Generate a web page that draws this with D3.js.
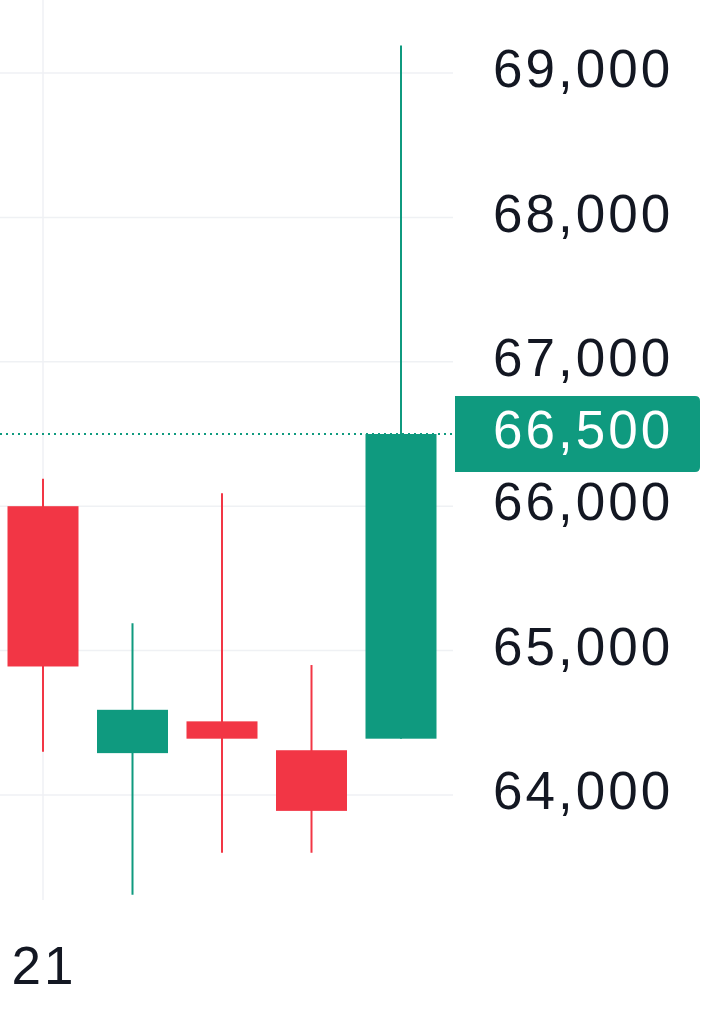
<!DOCTYPE html>
<html>
<head>
<meta charset="utf-8">
<script src="https://cdn.jsdelivr.net/npm/d3@7"></script>
<style>
  body { margin: 0; background: #fff; }
  svg { display: block; }
</style>
</head>
<body>
<div id="chart"></div>
<script>
// candles, oldest first
var opens  = [66000, 64290, 64510, 64310, 64390];
var closes = [64890, 64590, 64390, 63890, 66500];
var highs  = [66190, 65190, 66090, 64900, 69190];
var lows   = [64300, 63310, 63600, 63600, 64390];
var yTicks = [64000, 65000, 66000, 67000, 68000, 69000];
var xTickLabels = ["21"];
var lastPrice = 66500;

var W = 721, H = 1024;
var plotRight = 453;
var up = "#0f9a7f", down = "#f23645";
var font = '"Liberation Sans", Arial, sans-serif';
var fontSize = 53;

var y = d3.scaleLinear().domain([64000, 69000]).range([795, 73]);
var x = d3.scaleLinear().domain([0, 4]).range([43, 401]);
var bodyW = 71;

var svg = d3.select("#chart").append("svg")
    .attr("width", W)
    .attr("height", H);

// grid
svg.append("g").selectAll("line")
    .data(yTicks).enter().append("line")
    .attr("x1", 0).attr("x2", plotRight)
    .attr("y1", d => y(d)).attr("y2", d => y(d))
    .attr("stroke", "#eff1f4").attr("stroke-width", 1.5);

svg.append("line")
    .attr("x1", x(0)).attr("x2", x(0))
    .attr("y1", 0).attr("y2", 900)
    .attr("stroke", "#eff1f4").attr("stroke-width", 1.5);

// last price dotted line
svg.append("line")
    .attr("x1", 0).attr("x2", plotRight)
    .attr("y1", y(lastPrice)).attr("y2", y(lastPrice))
    .attr("stroke", up).attr("stroke-width", 2)
    .attr("stroke-dasharray", "2,4");

var candles = d3.range(opens.length).map(i => ({
    i: i, o: opens[i], c: closes[i], h: highs[i], l: lows[i]
}));

var g = svg.append("g").selectAll("g")
    .data(candles).enter().append("g");

g.append("line")
    .attr("x1", d => x(d.i)).attr("x2", d => x(d.i))
    .attr("y1", d => y(d.h)).attr("y2", d => y(d.l))
    .attr("stroke", d => d.c >= d.o ? up : down)
    .attr("stroke-width", 2);

g.append("rect")
    .attr("x", d => x(d.i) - bodyW / 2)
    .attr("width", bodyW)
    .attr("y", d => y(Math.max(d.o, d.c)))
    .attr("height", d => Math.max(1, y(Math.min(d.o, d.c)) - y(Math.max(d.o, d.c))))
    .attr("fill", d => d.c >= d.o ? up : down);

// right axis
var yAxis = svg.append("g")
    .attr("transform", `translate(493, 0)`)
    .call(d3.axisRight(y).tickValues(yTicks).tickSize(0).tickPadding(0)
        .tickFormat(d3.format(",")));
yAxis.select(".domain").remove();
yAxis.selectAll("text")
    .attr("font-family", font)
    .attr("font-size", fontSize)
    .attr("letter-spacing", 3)
    .attr("fill", "#131722")
    .attr("dy", "0.26em");

// last price label
var ly = y(lastPrice);
svg.append("path")
    .attr("d", `M455,${ly - 38} H695 Q700,${ly - 38} 700,${ly - 33} V${ly + 33} Q700,${ly + 38} 695,${ly + 38} H455 Z`)
    .attr("fill", up);
svg.append("text")
    .attr("x", 493).attr("y", ly)
    .attr("dy", "0.26em")
    .attr("font-family", font)
    .attr("font-size", fontSize)
    .attr("letter-spacing", 3)
    .attr("fill", "#fff")
    .text(d3.format(",")(lastPrice));

// time axis label
svg.append("text")
    .attr("x", x(0) + 1).attr("y", 965)
    .attr("dy", "0.36em")
    .attr("text-anchor", "middle")
    .attr("font-family", font)
    .attr("font-size", fontSize)
    .attr("letter-spacing", 3)
    .attr("fill", "#131722")
    .text(xTickLabels[0]);
</script>
</body>
</html>
